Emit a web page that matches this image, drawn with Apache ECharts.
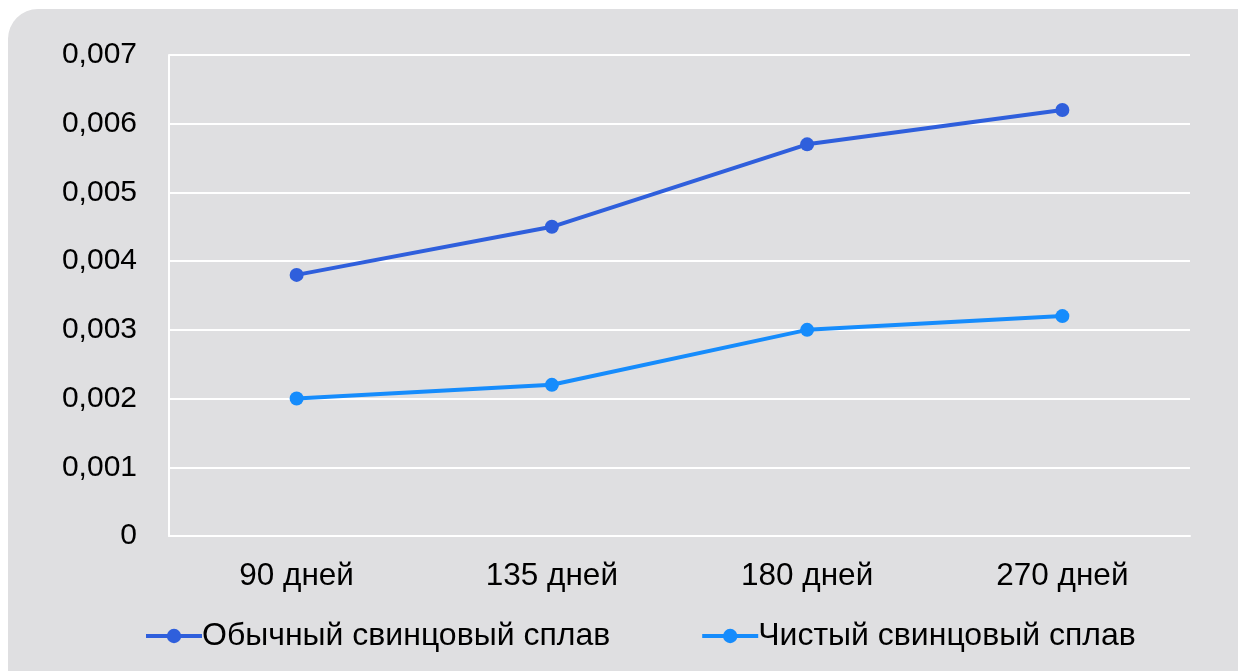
<!DOCTYPE html>
<html>
<head>
<meta charset="utf-8">
<script src="https://cdn.jsdelivr.net/npm/echarts@6/dist/echarts.min.js"></script>
<style>
  html, body { margin: 0; padding: 0; background: #ffffff; }
  #chart { width: 1238px; height: 671px; }
</style>
</head>
<body>
<div id="chart"></div>
<script>
// Periods of exposure
const categories = ['90 дней', '135 дней', '180 дней', '270 дней'];
// Values for the ordinary lead alloy
const ordinaryAlloy = [0.0038, 0.0045, 0.0057, 0.0062];
// Values for the pure lead alloy
const pureAlloy = [0.002, 0.0022, 0.003, 0.0032];
const seriesNames = ['Обычный свинцовый сплав', 'Чистый свинцовый сплав'];

const chart = echarts.init(document.getElementById('chart'), null, { renderer: 'canvas' });
const font = 'Liberation Sans, Arial, sans-serif';

chart.setOption({
  backgroundColor: '#ffffff',
  animation: false,
  graphic: [{
    type: 'rect',
    z: -10,
    silent: true,
    shape: { x: 8, y: 9, width: 1260, height: 700, r: 30 },
    style: { fill: '#dfdfe1' }
  }],
  grid: { left: 169, right: 48, top: 55, bottom: 135, containLabel: false },
  xAxis: {
    type: 'category',
    data: categories,
    boundaryGap: true,
    axisLine: { show: true, lineStyle: { color: '#ffffff', width: 2 } },
    axisTick: { show: false },
    axisLabel: { color: '#000000', fontFamily: font, fontSize: 31.5, margin: 24 }
  },
  yAxis: {
    type: 'value',
    min: 0,
    max: 0.007,
    interval: 0.001,
    axisLine: { show: true, lineStyle: { color: '#ffffff', width: 2 } },
    axisTick: { show: false },
    splitLine: { show: true, lineStyle: { color: '#ffffff', width: 2 } },
    axisLabel: {
      color: '#000000', fontFamily: font, fontSize: 30, margin: 32,
      formatter: v => v === 0 ? '0' : v.toFixed(3).replace('.', ',')
    }
  },
  legend: {
    bottom: 14,
    left: 139,
    itemWidth: 56,
    itemHeight: 18,
    itemGap: 90,
    lineStyle: { width: 4 },
    textStyle: { color: '#000000', fontFamily: font, fontSize: 32, padding: [0, 0, 0, -5] },
    data: seriesNames
  },
  series: [
    {
      name: seriesNames[0],
      type: 'line',
      data: ordinaryAlloy,
      color: '#2f5fdc',
      symbol: 'circle',
      symbolSize: 14,
      lineStyle: { width: 4 }
    },
    {
      name: seriesNames[1],
      type: 'line',
      data: pureAlloy,
      color: '#168cfc',
      symbol: 'circle',
      symbolSize: 14,
      lineStyle: { width: 4 }
    }
  ]
});
</script>
</body>
</html>
